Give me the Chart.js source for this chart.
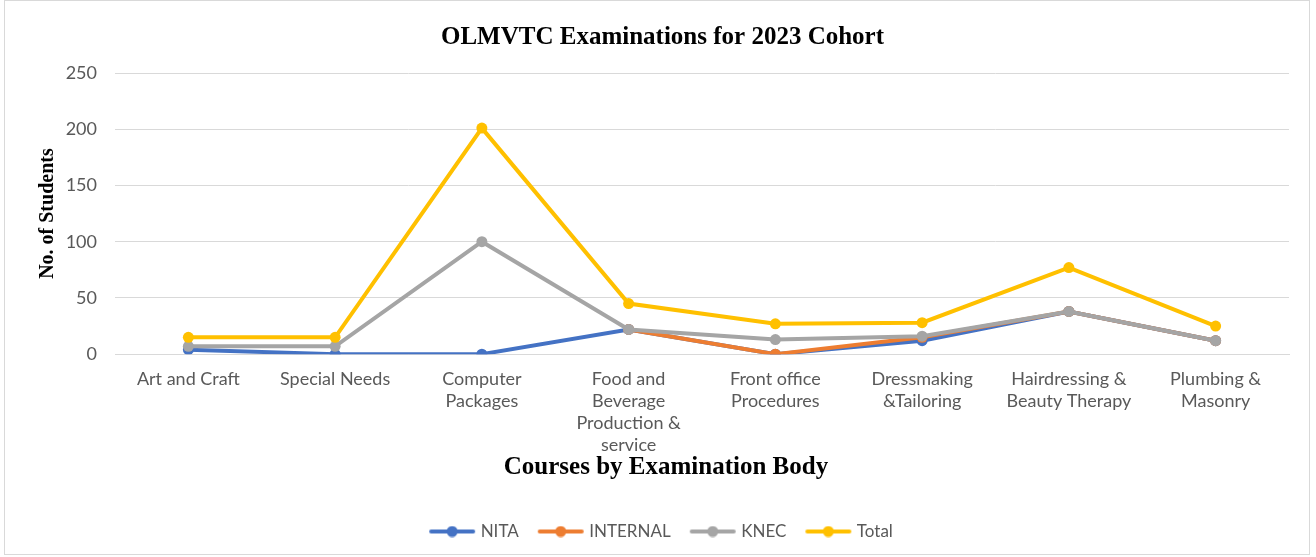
<!DOCTYPE html>
<html>
<head>
<meta charset="utf-8">
<script src="https://cdn.jsdelivr.net/npm/chart.js@4/dist/chart.umd.min.js"></script>
<style>
  html, body { margin: 0; padding: 0; background: #fff; }
  #wrap { position: absolute; left: 4px; top: 0; width: 1306px; height: 555px; border: 1px solid #d9d9d9; box-sizing: border-box; }
  canvas { display: block; }
</style>
</head>
<body>
<div id="wrap"><canvas id="examChart"></canvas></div>
<script>
// Données du graphique
const courses = [
    'Art and Craft',
    'Special Needs',
    ['Computer', 'Packages'],
    ['Food and', 'Beverage', 'Production &', 'service'],
    ['Front office', 'Procedures'],
    ['Dressmaking', '&Tailoring'],
    ['Hairdressing &', 'Beauty Therapy'],
    ['Plumbing &', 'Masonry']
];
const nita = [4, 0, 0, 22, 0, 12, 38, 12];
const internal = [null, null, null, 22, 0, 15, 38, 12];
const knec = [7, 7, 100, 22, 13, 16, 38, 12];
const total = [15, 15, 201, 45, 27, 28, 77, 25];

const seriesNames = ['NITA', 'INTERNAL', 'KNEC', 'Total'];
const seriesColors = ['#4472C4', '#ED7D31', '#A5A5A5', '#FFC000'];

const yTicks = [0, 50, 100, 150, 200, 250];
const xTitleText = 'Courses by Examination Body';

// Marqueur de légende : ligne + point
function legendMarker(color) {
    const c = document.createElement('canvas');
    c.width = 48;
    c.height = 12;
    const g = c.getContext('2d');
    g.strokeStyle = color;
    g.lineWidth = 4;
    g.lineCap = 'round';
    g.beginPath();
    g.moveTo(3, 6);
    g.lineTo(45, 6);
    g.stroke();
    g.fillStyle = color;
    g.beginPath();
    g.arc(24, 6, 5.5, 0, Math.PI * 2);
    g.fill();
    return c;
}

function makeDataset(i, values) {
    return {
        label: seriesNames[i],
        data: values,
        borderColor: seriesColors[i],
        backgroundColor: seriesColors[i],
        borderWidth: 4,
        pointRadius: 5.5,
        pointHoverRadius: 5.5,
        pointBorderWidth: 0,
        tension: 0,
        fill: false,
        order: 3 - i
    };
}

// Titre de l'axe X centré un peu à gauche, comme dans Excel
const xTitlePlugin = {
    id: 'xTitlePlugin',
    afterDraw: function (chart) {
        const xs = chart.scales.x;
        const area = chart.chartArea;
        const c = chart.ctx;
        c.save();
        c.font = 'bold 25px "Liberation Serif"';
        c.fillStyle = '#000';
        c.textAlign = 'center';
        c.textBaseline = 'middle';
        c.fillText(xTitleText, (area.left + area.right) / 2 - 36, xs.bottom - 18 - 15);
        c.restore();
    }
};

const ctx = document.getElementById('examChart').getContext('2d');
const examChart = new Chart(ctx, {
    type: 'line',
    data: {
        labels: courses,
        datasets: [
            makeDataset(0, nita),
            makeDataset(1, internal),
            makeDataset(2, knec),
            makeDataset(3, total)
        ]
    },
    plugins: [xTitlePlugin],
    options: {
        responsive: true,
        maintainAspectRatio: false,
        animation: false,
        layout: {
            padding: { left: 31, right: 20, top: 12, bottom: 4 }
        },
        plugins: {
            title: {
                display: true,
                text: 'OLMVTC Examinations for 2023 Cohort',
                color: '#000',
                font: { family: 'Liberation Serif', size: 25, weight: 'bold' },
                padding: { top: 10, bottom: 20 }
            },
            legend: {
                position: 'bottom',
                labels: {
                    usePointStyle: true,
                    pointStyleWidth: 40,
                    color: '#595959',
                    font: { family: 'Lato', size: 17 },
                    padding: 22,
                    generateLabels: function (chart) {
                        return chart.data.datasets.map(function (ds, i) {
                            return {
                                text: ds.label,
                                fillStyle: ds.borderColor,
                                strokeStyle: ds.borderColor,
                                fontColor: '#595959',
                                lineWidth: 0,
                                pointStyle: legendMarker(ds.borderColor),
                                hidden: false,
                                datasetIndex: i
                            };
                        });
                    }
                }
            },
            tooltip: { enabled: false }
        },
        scales: {
            x: {
                offset: true,
                grid: { display: false },
                border: { display: true, color: '#d9d9d9' },
                ticks: {
                    color: '#595959',
                    font: { family: 'Lato', size: 18, lineHeight: 1.22 },
                    maxRotation: 0,
                    autoSkip: false,
                    padding: 6
                },
                title: {
                    // espace réservé, le texte est dessiné par xTitlePlugin
                    display: true,
                    text: xTitleText,
                    color: 'rgba(0,0,0,0)',
                    font: { family: 'Liberation Serif', size: 25, weight: 'bold' },
                    padding: { top: -9, bottom: 18 }
                }
            },
            y: {
                min: 0,
                max: 250,
                afterBuildTicks: function (axis) {
                    axis.ticks = yTicks.map(function (v) { return { value: v }; });
                },
                afterFit: function (axis) {
                    axis.width = 79;
                },
                grid: { color: '#d9d9d9', drawTicks: false, lineWidth: 1 },
                border: { display: false },
                ticks: {
                    color: '#595959',
                    font: { family: 'Lato', size: 18 },
                    padding: 18
                },
                title: {
                    display: true,
                    text: 'No. of Students',
                    color: '#000',
                    font: { family: 'Liberation Serif', size: 20, weight: 'bold' },
                    padding: { top: 0, bottom: 9 }
                }
            }
        }
    }
});
</script>
</body>
</html>
